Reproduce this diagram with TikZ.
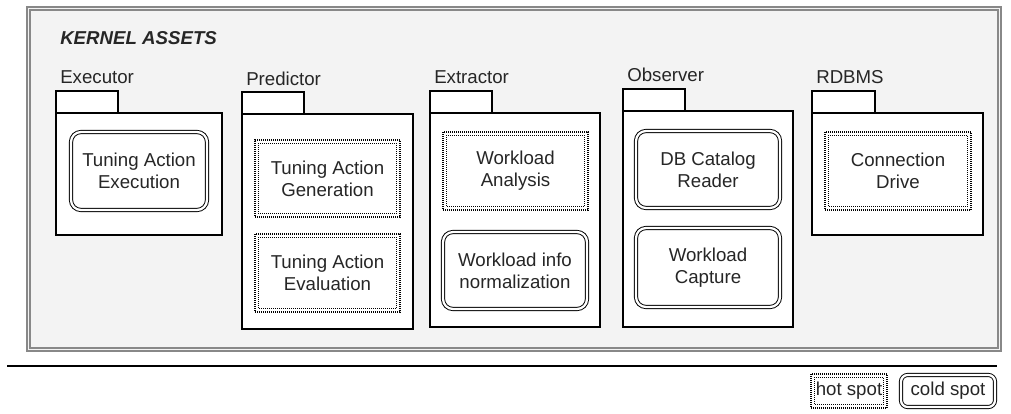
\documentclass[tikz,border=0pt]{standalone}
\usepackage{fontspec}
\setmainfont{Liberation Sans}
\usetikzlibrary{calc}
\definecolor{txt}{HTML}{262626}
\definecolor{framec}{HTML}{888888}
\definecolor{bgc}{HTML}{F3F3F3}
\begin{document}
\begin{tikzpicture}[x=0.75pt,y=-0.75pt,
  every node/.style={text=txt},
  base font/.style={font=\fontsize{14pt}{16.4pt}\selectfont},
  sz/.style 2 args={minimum width=#1*0.75pt, minimum height=#2*0.75pt, inner sep=0pt, outer sep=0pt},
  pkgtab/.style={draw=black, fill=white, line width=0.9pt},
  pkgbody/.style={draw=black, fill=white, line width=0.9pt},
  pkglabel/.style={base font, anchor=base west, inner sep=0pt},
  dotline/.style={line width=0.8pt, dash pattern=on 0.75pt off 0.75pt, draw=black},
  hotspot/.style={base font, align=center, fill=white, dotline,
    path picture={\draw[dotline] ($(path picture bounding box.north west)+(2.6pt,-2.6pt)$) rectangle ($(path picture bounding box.south east)+(-2.6pt,2.6pt)$);}},
  coldspot/.style={base font, align=center, fill=white, draw=black, double=white, double distance=1.7pt, line width=0.7pt, rounded corners=7.5pt}
]
\useasboundingbox (0,0) rectangle (1011,414);
% outer frame
\draw[framec, line width=1.2pt, fill=bgc] (27,7) rectangle (1001,351);
\draw[framec, line width=1.2pt] (30,10) rectangle (998,348);
\node[base font, font=\fontsize{14pt}{16.4pt}\selectfont\bfseries\itshape, anchor=base west, inner sep=0pt] (title) at (60,45) {KERNEL ASSETS};

% Executor
\node[pkglabel] (exLbl) at (60,83) {Executor};
\node[pkgtab, sz={62}{22}, anchor=north west] (exTab) at (56,91) {};
\node[pkgbody, sz={166}{122}, anchor=north west] (exBody) at (56,113) {};
\node[coldspot, sz={136}{78}] (tae) at (139,171) {Tuning Action\\Execution};

% Predictor
\node[pkglabel] (prLbl) at (246,85) {Predictor};
\node[pkgtab, sz={62}{22}, anchor=north west] (prTab) at (242,92) {};
\node[pkgbody, sz={171}{215}, anchor=north west] (prBody) at (242,114) {};
\node[hotspot, sz={145}{77}] (tag) at (327.5,178.5) {Tuning Action\\Generation};
\node[hotspot, sz={145}{78}] (taev) at (327.5,273) {Tuning Action\\Evaluation};

% Extractor
\node[pkglabel] (extLbl) at (434,83) {Extractor};
\node[pkgtab, sz={62}{22}, anchor=north west] (extTab) at (430,91) {};
\node[pkgbody, sz={170}{214}, anchor=north west] (extBody) at (430,113) {};
\node[hotspot, sz={145}{78}] (wa) at (515.5,171) {Workload\\Analysis};
\node[coldspot, sz={144}{77}] (win) at (515,270.5) {Workload info\\normalization};

% Observer
\node[pkglabel] (obLbl) at (627,81) {Observer};
\node[pkgtab, sz={62}{22}, anchor=north west] (obTab) at (623,89) {};
\node[pkgbody, sz={170}{216}, anchor=north west] (obBody) at (623,111) {};
\node[coldspot, sz={144}{77}] (dbc) at (708,169.5) {DB Catalog\\Reader};
\node[coldspot, sz={144}{79}] (wc) at (708,267.5) {Workload\\Capture};

% RDBMS
\node[pkglabel] (rdLbl) at (816,83) {RDBMS};
\node[pkgtab, sz={63}{22}, anchor=north west] (rdTab) at (812,91) {};
\node[pkgbody, sz={171}{122}, anchor=north west] (rdBody) at (812,113) {};
\node[hotspot, sz={146}{78}] (cd) at (898,171) {Connection\\Drive};

% separator
\coordinate (sepL) at (7,366);
\coordinate (sepR) at (997,366);
\draw[black, line width=1pt] (sepL) -- (sepR);

% legend
\node[hotspot, sz={76}{34}] (lgHot) at (849,391) {hot spot};
\node[coldspot, sz={94}{32}, rounded corners=5pt] (lgCold) at (948,391) {cold spot};
\end{tikzpicture}
\end{document}
